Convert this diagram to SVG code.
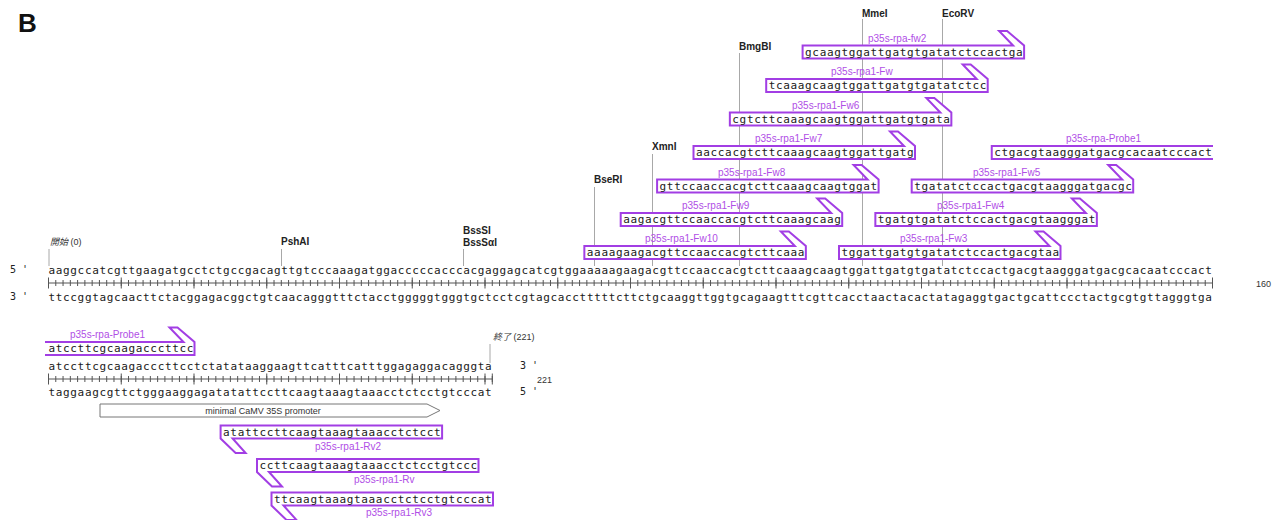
<svg xmlns="http://www.w3.org/2000/svg" xmlns:xlink="http://www.w3.org/1999/xlink" width="1284" height="520" viewBox="0 0 1284 520">
<style>
.seq{font-family:"DejaVu Sans Mono","Liberation Mono",monospace;font-size:11px;letter-spacing:0.653px;fill:#1a1a1a}
.end{font-family:"DejaVu Sans Mono","Liberation Mono",monospace;font-size:10px;fill:#222}
.num{font-family:"Liberation Sans",Arial,sans-serif;font-size:9px;fill:#333}
.lab{font-family:"Liberation Sans",Arial,sans-serif;font-size:10px;fill:#b04ee6}
.enz{font-family:"Liberation Sans",Arial,sans-serif;font-size:10px;font-weight:bold;fill:#222}
.cut{stroke:#a8a8a8;stroke-width:1;fill:none}
.pr{fill:#fff;stroke:#a23ee4;stroke-width:2;stroke-linejoin:miter}
.rul{stroke:#555;fill:none}
.cjk{font-family:"Noto Sans CJK JP","Noto Sans CJK SC",sans-serif;font-style:italic}
</style>
<defs>
<path id="fw" class="pr" d="M0 0V13H221.5V0L204.5 -14.5H196.5L210.5 0Z"/>
<path id="rv" class="pr" d="M221.5 13V0H0V13L15 27.5H25L12 13Z"/>
</defs>
<rect width="1284" height="520" fill="#fff"/>
<text x="18" y="32" font-family="Liberation Sans,Arial,sans-serif" font-size="26" font-weight="bold" fill="#111">B</text>

<g id="connectors">
<line class="cut" x1="49" y1="249" x2="49" y2="266"/>
<line class="cut" x1="281.5" y1="249" x2="281.5" y2="266"/>
<line class="cut" x1="463.5" y1="249" x2="463.5" y2="266"/>
<line class="cut" x1="594.5" y1="187" x2="594.5" y2="266"/>
<line class="cut" x1="652.5" y1="154" x2="652.5" y2="266"/>
<line class="cut" x1="739.5" y1="53" x2="739.5" y2="266"/>
<line class="cut" x1="862.5" y1="19" x2="862.5" y2="266"/>
<line class="cut" x1="942.5" y1="19" x2="942.5" y2="266"/>
<line class="cut" x1="490" y1="344" x2="490" y2="363"/>
</g>

<g id="sites">
<text class="num" x="50" y="245"><tspan class="cjk">開始</tspan> (0)</text>
<text class="enz" x="281" y="244.5">PshAI</text>
<text class="enz" x="463" y="233.5">BssSI</text>
<text class="enz" x="463" y="245.5">BssSαI</text>
<text class="enz" x="594" y="183">BseRI</text>
<text class="enz" x="652" y="150">XmnI</text>
<text class="enz" x="739" y="50">BmgBI</text>
<text class="enz" x="862" y="16.5">MmeI</text>
<text class="enz" x="942" y="16.5">EcoRV</text>
<text class="num" x="493" y="340"><tspan class="cjk">終了</tspan> (221)</text>
</g>

<g id="row1">
<text class="end" x="10" y="273">5 '</text>
<text class="end" x="10" y="300">3 '</text>
<text class="seq" x="48.5" y="273.5">aaggccatcgttgaagatgcctctgccgacagttgtcccaaagatggacccccacccacgaggagcatcgtggaaaaagaagacgttccaaccacgtcttcaaagcaagtggattgatgtgatatctccactgacgtaagggatgacgcacaatcccact</text>
<line class="rul" x1="48.5" y1="283" x2="1212.5" y2="283"/>
<line class="rul" x1="48" y1="283" x2="1213.5" y2="283" stroke-width="6" stroke-dasharray="1 6.275"/>
<line class="rul" x1="48" y1="283" x2="1213.5" y2="283" stroke-width="11" stroke-dasharray="1 71.75"/>
<text class="seq" x="48.5" y="300.5">ttccggtagcaacttctacggagacggctgtcaacagggtttctacctgggggtgggtgctcctcgtagcacctttttcttctgcaaggttggtgcagaagtttcgttcacctaactacactatagaggtgactgcattccctactgcgtgttagggtga</text>
<text class="num" x="1256" y="287">160</text>
</g>

<g id="row2">
<text class="seq" x="48.5" y="369.5">atccttcgcaagacccttcctctatataaggaagttcatttcatttggagaggacagggta</text>
<line class="rul" x1="48.5" y1="379" x2="492.3" y2="379"/>
<line class="rul" x1="48" y1="379" x2="493.3" y2="379" stroke-width="6" stroke-dasharray="1 6.275"/>
<line class="rul" x1="48" y1="379" x2="486" y2="379" stroke-width="11" stroke-dasharray="1 71.75"/>
<line class="rul" x1="492.3" y1="373.5" x2="492.3" y2="384.5"/>
<text class="seq" x="48.5" y="395.5">taggaagcgttctgggaaggagatatattccttcaagtaaagtaaacctctcctgtcccat</text>
<text class="end" x="520" y="369">3 '</text>
<text class="end" x="520" y="395">5 '</text>
<text class="num" x="537" y="383">221</text>
</g>

<g id="promoter">
<polygon points="100,404 427,404 440,410.5 427,417 100,417" fill="#fff" stroke="#777" stroke-width="1"/>
<text class="num" x="263" y="413.5" text-anchor="middle" fill="#222">minimal CaMV 35S promoter</text>
</g>

<g id="p35s-rpa-fw2">
<use href="#fw" xlink:href="#fw" x="802.6" y="45.5"/>
<text class="seq" x="805.1" y="55.5">gcaagtggattgatgtgatatctccactga</text>
<text class="lab" x="868" y="41.5">p35s-rpa-fw2</text>
</g>
<g id="p35s-rpa1-Fw">
<use href="#fw" xlink:href="#fw" x="766.2" y="79"/>
<text class="seq" x="768.7" y="89">tcaaagcaagtggattgatgtgatatctcc</text>
<text class="lab" x="831" y="75">p35s-rpa1-Fw</text>
</g>
<g id="p35s-rpa1-Fw6">
<use href="#fw" xlink:href="#fw" x="729.85" y="112.5"/>
<text class="seq" x="732.35" y="122.5">cgtcttcaaagcaagtggattgatgtgata</text>
<text class="lab" x="792" y="108.5">p35s-rpa1-Fw6</text>
</g>
<g id="p35s-rpa1-Fw7">
<use href="#fw" xlink:href="#fw" x="693.5" y="146"/>
<text class="seq" x="696" y="156">aaccacgtcttcaaagcaagtggattgatg</text>
<text class="lab" x="755" y="142">p35s-rpa1-Fw7</text>
</g>
<g id="p35s-rpa-Probe1-a">
<path class="pr" d="M1213 146H991.75V159H1213"/>
<text class="seq" x="994.25" y="156">ctgacgtaagggatgacgcacaatcccact</text>
<text class="lab" x="1066" y="142">p35s-rpa-Probe1</text>
</g>
<g id="p35s-rpa1-Fw8">
<use href="#fw" xlink:href="#fw" x="657.1" y="179.5"/>
<text class="seq" x="659.6" y="189.5">gttccaaccacgtcttcaaagcaagtggat</text>
<text class="lab" x="718" y="175.5">p35s-rpa1-Fw8</text>
</g>
<g id="p35s-rpa1-Fw5">
<use href="#fw" xlink:href="#fw" x="911.7" y="179.5"/>
<text class="seq" x="914.2" y="189.5">tgatatctccactgacgtaagggatgacgc</text>
<text class="lab" x="973" y="175.5">p35s-rpa1-Fw5</text>
</g>
<g id="p35s-rpa1-Fw9">
<use href="#fw" xlink:href="#fw" x="620.7" y="213"/>
<text class="seq" x="623.2" y="223">aagacgttccaaccacgtcttcaaagcaag</text>
<text class="lab" x="682" y="209">p35s-rpa1-Fw9</text>
</g>
<g id="p35s-rpa1-Fw4">
<use href="#fw" xlink:href="#fw" x="875.35" y="213"/>
<text class="seq" x="877.85" y="223">tgatgtgatatctccactgacgtaagggat</text>
<text class="lab" x="937" y="209">p35s-rpa1-Fw4</text>
</g>
<g id="p35s-rpa1-Fw10">
<use href="#fw" xlink:href="#fw" x="584.35" y="246"/>
<text class="seq" x="586.85" y="256">aaaagaagacgttccaaccacgtcttcaaa</text>
<text class="lab" x="645" y="242">p35s-rpa1-Fw10</text>
</g>
<g id="p35s-rpa1-Fw3">
<use href="#fw" xlink:href="#fw" x="839" y="246"/>
<text class="seq" x="841.5" y="256">tggattgatgtgatatctccactgacgtaa</text>
<text class="lab" x="900" y="242">p35s-rpa1-Fw3</text>
</g>

<g id="p35s-rpa-Probe1-b">
<path class="pr" d="M45 355H194.5V342L177.5 327.5H169.5L183.5 342H45"/>
<text class="seq" x="48.5" y="352">atccttcgcaagacccttcc</text>
<text class="lab" x="70" y="338">p35s-rpa-Probe1</text>
</g>

<g id="p35s-rpa1-Rv2">
<use href="#rv" xlink:href="#rv" x="220.6" y="425.5"/>
<text class="seq" x="223.1" y="435.5">atattccttcaagtaaagtaaacctctcct</text>
<text class="lab" x="315" y="449.5">p35s-rpa1-Rv2</text>
</g>
<g id="p35s-rpa1-Rv">
<use href="#rv" xlink:href="#rv" x="257" y="459"/>
<text class="seq" x="259.5" y="469">ccttcaagtaaagtaaacctctcctgtccc</text>
<text class="lab" x="354" y="483">p35s-rpa1-Rv</text>
</g>
<g id="p35s-rpa1-Rv3">
<use href="#rv" xlink:href="#rv" x="271.5" y="492.5"/>
<text class="seq" x="274" y="502.5">ttcaagtaaagtaaacctctcctgtcccat</text>
<text class="lab" x="366" y="516">p35s-rpa1-Rv3</text>
</g>
</svg>
